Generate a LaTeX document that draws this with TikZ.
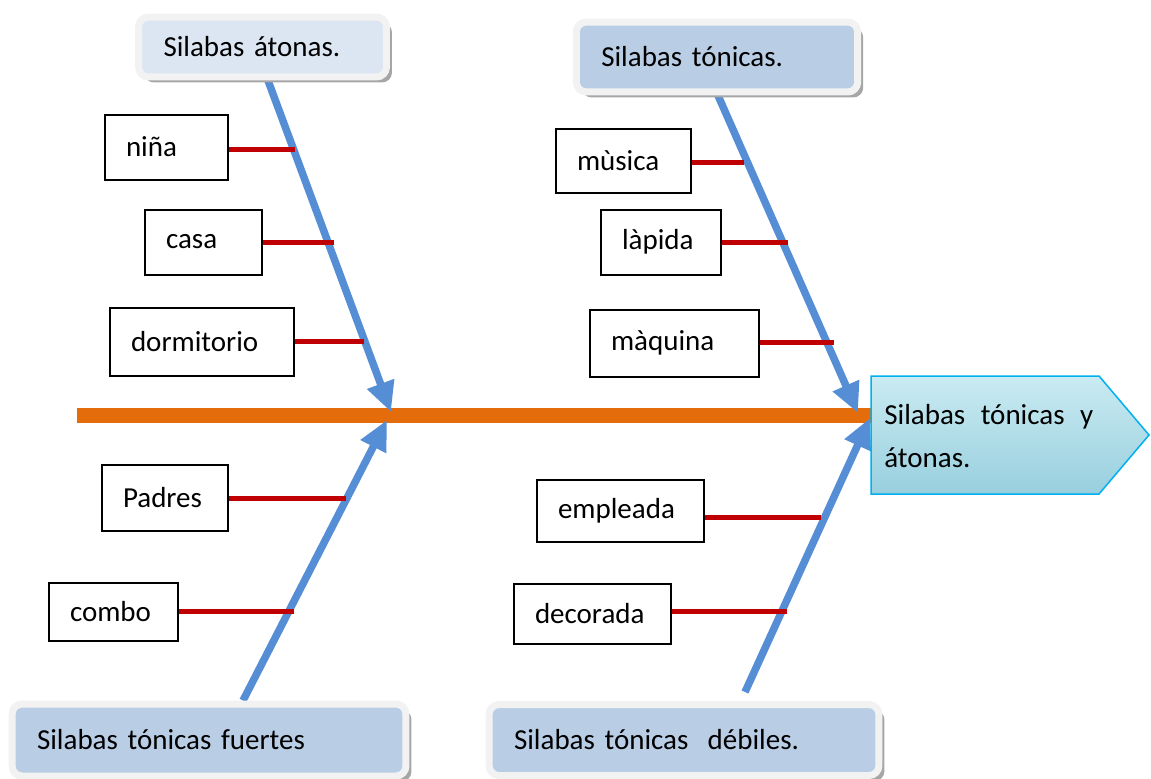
\documentclass[tikz,border=0pt]{standalone}
\usepackage{fontspec}
\setmainfont{Carlito}
\usepackage{tikz}
\usetikzlibrary{arrows.meta}
\usetikzlibrary{backgrounds}
\usetikzlibrary{shadows}

\definecolor{spineorange}{RGB}{228,108,10}
\definecolor{boneblue}{RGB}{85,142,213}
\definecolor{ribred}{RGB}{192,0,0}
\definecolor{paleblue}{RGB}{220,230,242}
\definecolor{softblue}{RGB}{185,205,229}
\definecolor{headedge}{RGB}{0,176,240}
\definecolor{headlight}{RGB}{202,235,242}
\definecolor{headdark}{RGB}{152,207,222}

\begin{document}
\begin{tikzpicture}[x=0.02cm,y=-0.02cm,
        font=\fontsize{16.5}{24.4}\selectfont,
        word/.style={draw,line width=0.04cm,fill=white,inner xsep=0.42cm,
            inner ysep=0pt,align=left},
        topic/.style={fill=#1,draw=black!5,line width=0.14cm,
            rounded corners=0.2cm,inner xsep=0.5cm,inner ysep=0pt,align=left,
            general shadow={fill=black!35,shadow xshift=0.11cm,
                shadow yshift=-0.11cm}},
        spine/.style={spineorange,line width=0.3cm},
        bone/.style={boneblue,line width=0.15cm,
            -{Triangle[length=0.6cm,width=0.54cm]}},
        rib/.style={ribred,line width=0.1cm}]
        \useasboundingbox (0,0) rectangle (1151,778);

        % Topics
        \node (atonas) [topic=paleblue,minimum width=4.96cm,minimum height=1.2cm,
            text width=3.96cm] at (262.5,47) {Silabas átonas.};
        \node (tonicas) [topic=softblue,minimum width=5.63cm,minimum height=1.4cm,
            text width=4.63cm] at (717,57) {Silabas tónicas.};
        \node (fuertes) [topic=softblue,minimum width=7.88cm,minimum height=1.44cm,
            text width=6.88cm] at (209,740) {Silabas tónicas fuertes};
        \node (debiles) [topic=softblue,minimum width=7.8cm,minimum height=1.42cm,
            text width=6.8cm] at (684,740) {Silabas tónicas\ \ débiles.};

        % Words
        \node (nina) [word,minimum width=2.46cm,minimum height=1.3cm,
            text width=1.62cm] at (166.5,147) {niña};
        \node (casa) [word,minimum width=2.34cm,minimum height=1.3cm,
            text width=1.5cm] at (203.5,242) {casa};
        \node (dormitorio) [word,minimum width=3.68cm,minimum height=1.36cm,
            text width=2.84cm] at (202,342) {dormitorio};
        \node (padres) [word,minimum width=2.52cm,minimum height=1.32cm,
            text width=1.68cm] at (165,498) {Padres};
        \node (combo) [word,minimum width=2.58cm,minimum height=1.16cm,
            text width=1.74cm] at (113.5,612) {combo};
        \node (musica) [word,minimum width=2.7cm,minimum height=1.28cm,
            text width=1.86cm] at (623.5,161) {mùsica};
        \node (lapida) [word,minimum width=2.4cm,minimum height=1.3cm,
            text width=1.56cm] at (661,242) {làpida};
        \node (maquina) [word,minimum width=3.38cm,minimum height=1.34cm,
            text width=2.54cm] at (674.5,343) {màquina};
        \node (empleada) [word,minimum width=3.34cm,minimum height=1.24cm,
            text width=2.5cm] at (620.5,511) {empleada};
        \node (decorada) [word,minimum width=3.14cm,minimum height=1.2cm,
            text width=2.3cm] at (592.5,614) {decorada};

        % Head
        \shadedraw [top color=headlight,bottom color=headdark,draw=headedge,
            line width=0.03cm] (871,376) -- (1099,376) -- (1149,435)
            -- (1099,494) -- (871,494) -- cycle;
        \node (head) [anchor=north west,inner sep=0pt,text width=4.18cm,
            align=justify] at (884,404) {Silabas tónicas y átonas.};

        % Joints
        \coordinate (tail) at (77,415);
        \coordinate (mouth) at (871,415);
        \coordinate (ul) at (391,412);
        \coordinate (ur) at (858,413);
        \coordinate (ll) at (387,420);
        \coordinate (lr) at (870,418);
        \coordinate (lrfoot) at (745,692);

        \begin{scope}[on background layer]
            % Spine and bones
            \draw [spine] (tail) -- (mouth);
            \draw [bone] (atonas.south -| 268,0) -- (ul);
            \draw [bone] (tonicas.south -| 718,0) -- (ur);
            \draw [bone] (fuertes.north -| 243,0) -- (ll);
            \draw [bone] (lrfoot) -- (lr);

            % Ribs
            \draw [rib] ([yshift=-0.04cm]nina.east) -- ++(66,0);
            \draw [rib] (casa.east) -- ++(71,0);
            \draw [rib] ([yshift=0.02cm]dormitorio.east) -- ++(69,0);
            \draw [rib] (padres.east) -- ++(117,0);
            \draw [rib] ([yshift=0.02cm]combo.east) -- ++(115,0);
            \draw [rib] ([yshift=-0.02cm]musica.east) -- ++(52,0);
            \draw [rib] (lapida.east) -- ++(66,0);
            \draw [rib] ([yshift=0.02cm]maquina.east) -- ++(74,0);
            \draw [rib] ([yshift=-0.12cm]empleada.east) -- ++(116,0);
            \draw [rib] ([yshift=0.06cm]decorada.east) -- ++(115,0);
        \end{scope}
    \end{tikzpicture}
\end{document}
